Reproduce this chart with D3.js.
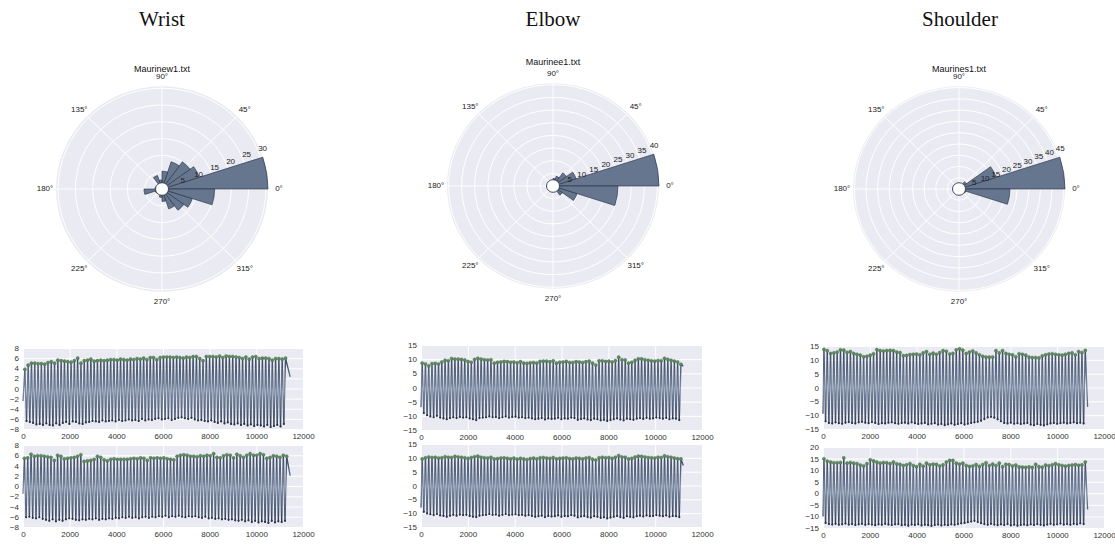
<!DOCTYPE html>
<html>
<head>
<meta charset="utf-8">
<script src="https://cdn.jsdelivr.net/npm/d3@7"></script>
<style>
  body { margin: 0; background: #fff; }
  svg { display: block; }
  text { font-family: "Liberation Sans", Arial, sans-serif; }
</style>
</head>
<body>
<svg id="fig" width="1115" height="546"></svg>
<script>
// ---------------- data ----------------
const joints = ["Wrist", "Elbow", "Shoulder"];
const files = ["Maurinew1.txt", "Maurinee1.txt", "Maurines1.txt"];

// angular histogram: 20 bins of 18 degrees, starting at 0 deg, counter-clockwise
const binDeg = 18;
const wristHist = [30.6, 11.3, 10, 8.5, 5.3, 2.7, 4.2, 1, 1, 2, 5.2, 2, 1.5, 1.5, 2.5, 3.7, 6.2, 7.8, 9.2, 15.2];
const elbowHist = [40.6, 9.3, 6.4, 4, 3, 2, 1, 0.8, 0.6, 0.5, 1, 0.5, 0.5, 0.6, 0.8, 1, 2, 4.5, 9.7, 24.9];
const shoulderHist = [45.6, 16.8, 4, 2, 1, 0.5, 0.3, 0.3, 0.3, 0.3, 0.5, 0.3, 0.3, 0.3, 0.3, 0.5, 0.8, 1.5, 3, 21.9];
const angleTicks = [0, 45, 90, 135, 180, 225, 270, 315];

// time-series: detected maxima (peaks) and minima (troughs) of each signal
const xTicks = [0, 2000, 4000, 6000, 8000, 10000, 12000];
const wristTicks = [-8, -6, -4, -2, 0, 2, 4, 6, 8];
const elbowTicks = [-15, -10, -5, 0, 5, 10, 15];
const shoulderTicksTop = [-15, -10, -5, 0, 5, 10, 15];
const shoulderTicksBot = [-15, -10, -5, 0, 5, 10, 15, 20];

const wristTopPeaks = [
  3.8,4.6,5.0,5.0,4.9,4.9,4.8,5.1,5.3,5.0,
  5.6,5.5,5.4,5.3,5.2,5.5,6.0,5.0,5.5,5.6,
  5.8,5.4,5.5,5.6,5.5,5.6,5.7,5.7,5.6,5.8,
  5.7,5.6,5.8,5.7,5.9,5.8,6.0,5.7,6.1,6.1,
  5.7,6.1,6.2,6.2,6.2,6.1,6.2,6.1,6.0,6.2,
  6.1,6.3,6.3,5.9,5.5,6.3,6.3,6.3,6.2,6.4,
  6.1,6.4,6.3,6.3,6.2,6.1,5.9,6.2,5.8,6.2,
  6.3,5.9,6.0,6.0,5.9,5.6,5.9,5.9,5.8,6.0];
const wristTopTroughs = [
  -6.4,-6.6,-6.8,-7.1,-7.0,-7.2,-6.9,-7.2,-7.3,-6.9,
  -7.2,-6.8,-6.6,-7.0,-6.5,-6.6,-6.9,-7.0,-6.7,-6.6,
  -6.4,-6.5,-6.6,-6.3,-6.5,-6.4,-6.3,-6.5,-6.2,-6.4,
  -6.3,-6.1,-6.3,-6.2,-6.4,-6.0,-6.3,-6.1,-6.2,-6.0,
  -5.9,-6.1,-6.0,-5.9,-6.2,-6.0,-5.8,-5.7,-5.9,-6.0,
  -5.8,-6.1,-6.3,-6.2,-6.4,-6.5,-6.3,-6.6,-6.8,-6.5,
  -6.9,-6.7,-7.0,-7.1,-6.9,-7.2,-7.0,-7.3,-7.1,-7.4,
  -7.2,-7.3,-7.5,-7.2,-7.6,-7.4,-7.2,-7.5,-7.0];

const wristBotPeaks = [
  5.4,5.5,6.2,5.8,5.9,5.9,5.8,5.7,5.6,5.0,
  6.0,5.8,5.3,5.4,5.5,5.6,5.8,6.1,4.8,4.9,
  5.0,5.2,5.8,5.6,5.1,4.9,5.2,5.3,5.2,5.2,
  5.2,5.2,5.3,5.4,5.3,5.5,5.4,5.0,5.5,5.4,
  5.5,5.4,5.5,5.3,5.2,5.1,5.8,6.0,6.1,6.0,
  5.8,5.8,5.7,5.9,5.8,6.0,5.9,6.3,5.6,5.5,
  5.9,6.1,6.0,5.5,6.2,5.9,5.6,6.0,6.3,6.0,
  6.0,6.3,6.1,5.4,5.6,5.9,5.8,5.6,6.0,5.8];
const wristBotTroughs = [
  -6.1,-6.0,-6.2,-6.3,-6.1,-6.4,-6.6,-6.8,-6.5,-6.9,
  -6.6,-6.8,-6.5,-6.3,-6.4,-6.6,-6.7,-6.5,-6.6,-6.4,
  -6.5,-6.3,-6.6,-6.4,-6.5,-6.3,-6.4,-6.2,-6.3,-6.1,
  -6.2,-6.0,-6.2,-6.1,-6.3,-6.1,-6.0,-6.2,-6.0,-6.1,
  -5.9,-6.0,-5.8,-6.1,-5.9,-6.0,-5.8,-6.0,-6.1,-5.9,
  -6.0,-5.9,-6.1,-6.2,-6.0,-6.3,-6.2,-6.4,-6.3,-6.5,
  -6.4,-6.6,-6.5,-6.7,-6.8,-6.6,-6.9,-6.7,-7.0,-6.8,
  -7.1,-6.9,-7.0,-7.2,-6.8,-7.1,-6.9,-7.0,-6.8];

const elbowTopPeaks = [
  8.6,8.3,7.6,8.4,8.5,8.3,9.0,9.6,9.4,10.2,
  10.0,10.0,9.9,9.7,9.2,8.9,9.9,10.3,10.0,9.8,
  9.7,9.8,8.6,8.9,9.0,9.2,9.1,8.9,9.0,8.7,
  9.1,8.6,8.5,8.7,8.8,8.6,9.2,9.3,9.3,9.1,
  9.4,8.6,8.9,9.0,9.2,8.8,8.8,9.1,9.0,8.8,
  9.1,9.3,8.6,7.9,9.4,9.4,9.2,9.3,9.0,9.5,
  10.7,9.8,9.7,8.6,8.9,9.6,10.1,10.1,9.8,9.6,
  9.4,9.3,9.5,9.4,10.3,9.9,9.6,9.3,9.0,8.2];
const elbowTopTroughs = [
  -9.0,-9.8,-10.2,-10.5,-10.0,-10.6,-10.9,-11.2,-10.8,-10.5,
  -10.8,-10.4,-10.6,-10.5,-10.9,-11.2,-11.5,-10.8,-10.6,-10.5,
  -10.2,-10.5,-10.4,-10.8,-10.5,-10.2,-10.6,-10.4,-10.3,-10.6,
  -10.5,-10.8,-10.6,-10.9,-11.2,-11.0,-10.8,-11.3,-10.9,-11.1,
  -11.0,-10.7,-11.2,-10.9,-11.0,-10.6,-10.8,-11.4,-11.1,-10.9,
  -11.3,-11.5,-11.0,-11.2,-11.6,-11.4,-11.8,-11.5,-11.2,-10.9,
  -11.3,-11.6,-11.0,-11.2,-11.4,-11.0,-10.8,-11.1,-10.7,-11.0,
  -10.9,-10.6,-10.8,-11.0,-10.7,-11.2,-10.9,-11.0,-11.5];

const elbowBotPeaks = [
  9.6,10.0,10.3,10.1,10.2,9.9,10.0,10.4,10.2,10.1,
  10.5,10.3,10.2,10.0,9.8,10.1,10.4,10.6,10.2,10.0,
  9.9,10.2,9.6,9.7,9.9,10.0,9.8,9.6,9.9,9.5,
  9.8,9.6,9.4,9.7,9.9,9.6,10.0,10.1,9.9,9.8,
  10.1,9.6,9.8,9.9,10.0,9.7,9.6,9.9,9.8,9.6,
  9.9,10.1,9.5,9.2,10.0,10.2,10.0,10.1,9.8,10.2,
  10.8,10.3,10.2,9.6,9.8,10.3,10.6,10.5,10.3,10.1,
  10.0,9.9,10.2,10.1,10.7,10.4,10.2,9.9,9.7,9.6];
const elbowBotTroughs = [
  -9.5,-10.1,-10.4,-10.7,-10.3,-10.8,-11.0,-11.3,-10.9,-10.6,
  -10.9,-10.5,-10.7,-10.6,-11.0,-11.3,-11.4,-10.9,-10.7,-10.6,
  -10.3,-10.6,-10.5,-10.9,-10.6,-10.3,-10.7,-10.5,-10.4,-10.7,
  -10.6,-10.9,-10.7,-11.0,-11.3,-11.1,-10.9,-11.4,-11.0,-11.2,
  -11.1,-10.8,-11.3,-11.0,-11.1,-10.7,-10.9,-11.5,-11.2,-11.0,
  -11.4,-11.6,-11.1,-11.3,-11.7,-11.5,-11.9,-11.6,-11.3,-11.0,
  -11.4,-11.7,-11.1,-11.3,-11.5,-11.1,-10.9,-11.2,-10.8,-11.1,
  -11.0,-10.7,-10.9,-11.1,-10.8,-11.3,-11.0,-11.1,-11.4];

const shoulderTopPeaks = [
  13.8,13.3,12.3,12.5,12.8,13.6,13.5,12.7,13.0,12.3,
  12.0,11.7,11.1,11.3,11.7,12.2,13.7,13.3,13.2,13.3,
  13.4,13.3,12.8,12.6,11.5,11.6,11.9,12.0,12.1,11.8,
  12.5,13.0,12.0,12.4,12.0,12.6,13.3,13.1,12.1,12.3,
  13.6,14.0,13.5,12.3,12.8,13.2,12.5,11.8,11.3,11.0,
  11.0,11.0,13.3,12.5,13.3,12.3,12.0,11.8,11.1,12.2,
  12.0,11.7,11.0,10.8,10.8,10.7,11.4,11.8,12.1,12.2,
  12.0,11.8,11.7,12.0,12.3,12.5,11.8,13.0,12.6,13.4];
const shoulderTopTroughs = [
  -12.2,-12.8,-13.0,-12.6,-12.9,-13.1,-12.7,-12.5,-12.8,-13.0,
  -12.6,-12.4,-12.7,-12.9,-12.5,-12.8,-13.2,-12.9,-13.0,-12.7,
  -12.6,-12.9,-13.1,-12.8,-12.7,-13.0,-12.6,-12.9,-13.2,-13.0,
  -12.8,-13.3,-13.1,-12.9,-13.4,-13.2,-13.6,-13.3,-13.0,-13.5,
  -13.2,-12.9,-13.4,-13.1,-12.8,-12.6,-12.4,-12.0,-11.4,-10.8,
  -10.6,-10.9,-11.5,-12.2,-12.8,-13.0,-12.7,-13.1,-12.9,-13.2,
  -13.0,-12.8,-13.4,-13.6,-13.2,-13.5,-13.7,-13.3,-13.0,-12.8,
  -13.1,-12.9,-12.7,-13.0,-12.8,-12.6,-12.9,-12.7,-13.0];

const shoulderBotPeaks = [
  14.9,13.9,13.5,13.2,13.2,13.3,15.3,13.0,13.3,13.0,
  12.8,12.2,11.8,12.8,14.5,14.0,13.5,13.0,13.3,13.2,
  12.8,13.5,12.7,12.5,12.0,12.3,12.8,12.0,11.5,12.5,
  11.7,13.0,12.3,12.6,12.5,11.8,12.3,13.5,14.2,14.2,
  13.0,12.6,13.0,12.0,11.6,11.8,12.4,11.6,12.4,13.2,
  12.0,12.6,12.0,13.0,11.5,12.5,12.4,11.8,12.2,11.4,
  11.3,11.2,11.4,11.2,12.5,11.5,11.3,12.2,11.9,12.3,
  12.8,12.3,12.0,11.7,12.0,12.2,12.4,12.1,12.3,13.5];
const shoulderBotTroughs = [
  -12.8,-13.3,-13.5,-13.2,-13.6,-13.4,-13.1,-13.5,-13.3,-13.7,
  -13.4,-13.2,-13.6,-13.3,-13.5,-13.8,-13.4,-13.6,-13.2,-13.5,
  -13.7,-13.4,-13.3,-13.8,-13.6,-14.0,-13.5,-13.7,-13.4,-13.9,
  -13.6,-13.8,-14.1,-13.7,-13.5,-13.9,-13.6,-13.8,-13.4,-13.6,
  -13.3,-13.0,-12.8,-12.5,-12.2,-11.9,-12.4,-12.9,-13.3,-13.6,
  -13.2,-13.5,-13.8,-13.4,-13.7,-13.3,-13.9,-13.6,-14.0,-13.7,
  -13.5,-13.8,-13.4,-13.7,-13.3,-13.6,-13.9,-13.5,-13.2,-13.6,
  -13.4,-13.1,-13.5,-13.3,-13.6,-13.2,-13.4,-13.0,-13.3];

// first / last sample value and time, first / last peak time
const seriesMeta = {
  wristTop:    {start: -2.5, end: 2.3,  firstPeak: 80, lastPeak: 11250, tEnd: 11450},
  wristBot:    {start: -1.5, end: 2.0,  firstPeak: 60, lastPeak: 11300, tEnd: 11450},
  elbowTop:    {start: -7.0, end: 7.5,  firstPeak: 50, lastPeak: 11100, tEnd: 11200},
  elbowBot:    {start: -8.0, end: 7.2,  firstPeak: 50, lastPeak: 11100, tEnd: 11200},
  shoulderTop: {start: -9.5, end: -7.0, firstPeak: 40, lastPeak: 11200, tEnd: 11300},
  shoulderBot: {start: -10.0, end: -7.0, firstPeak: 40, lastPeak: 11200, tEnd: 11300}
};

// ---------------- drawing ----------------
const svg = d3.select("#fig");
const BG = "#EAEAF2";
const BAR = "#67768f";

const defs = svg.append("defs");

// big column titles
const colX = [162, 553, 960];
svg.selectAll("text.joint").data(joints).enter().append("text")
  .attr("class", "joint")
  .attr("x", (d, i) => colX[i]).attr("y", 26)
  .attr("text-anchor", "middle")
  .style("font-family", "'Liberation Serif', 'Times New Roman', serif")
  .style("font-size", "21px").attr("fill", "#111")
  .text(d => d);

function drawPolar(cx, cy, titleY, title, counts) {
  const R = 106;
  const rmax = d3.max(counts);
  const r = d3.scaleLinear().domain([0, rmax]).range([0, R]);
  const g = svg.append("g").attr("transform", `translate(${cx},${cy}) scale(1,0.97)`);

  g.append("circle").attr("r", R).attr("fill", BG);
  g.selectAll("circle.ring").data(d3.range(5, rmax, 5)).enter().append("circle")
    .attr("class", "ring").attr("r", d => r(d))
    .attr("fill", "none").attr("stroke", "#fff").attr("stroke-width", 1);
  g.selectAll("line.spoke").data(angleTicks).enter().append("line")
    .attr("x2", d => R * Math.cos(d * Math.PI / 180))
    .attr("y2", d => -R * Math.sin(d * Math.PI / 180))
    .attr("stroke", "#fff").attr("stroke-width", 1);

  const arc = d3.arc().innerRadius(0);
  g.selectAll("path.bar").data(counts).enter().append("path")
    .attr("d", (d, i) => arc({
      outerRadius: r(d),
      startAngle: Math.PI / 2 - (i + 1) * binDeg * Math.PI / 180,
      endAngle: Math.PI / 2 - i * binDeg * Math.PI / 180
    }))
    .attr("fill", BAR).attr("stroke", "#2c384a").attr("stroke-width", 0.7);

  g.append("circle").attr("r", 6.5).attr("fill", "#fff")
    .attr("stroke", "#2c384a").attr("stroke-width", 0.9);

  const la = 22.5 * Math.PI / 180;
  g.selectAll("text.rlab").data(d3.range(5, rmax, 5)).enter().append("text")
    .attr("x", d => (r(d) + 5) * Math.cos(la))
    .attr("y", d => -(r(d) + 5) * Math.sin(la))
    .attr("text-anchor", "middle").attr("dominant-baseline", "central")
    .style("font-size", "8px").attr("fill", "#222")
    .text(d => d);

  g.selectAll("text.alab").data(angleTicks).enter().append("text")
    .attr("x", d => (R + 11) * Math.cos(d * Math.PI / 180))
    .attr("y", d => -(R + 10) * Math.sin(d * Math.PI / 180))
    .attr("text-anchor", "middle").attr("dominant-baseline", "central")
    .style("font-size", "8px").attr("fill", "#222")
    .text(d => d + "\u00b0");

  svg.append("text").attr("x", cx).attr("y", titleY)
    .attr("text-anchor", "middle").attr("dominant-baseline", "central")
    .style("font-size", "9px").attr("fill", "#111")
    .text(title);
}

drawPolar(162, 189, 69, files[0], wristHist);
drawPolar(553, 186, 62, files[1], elbowHist);
drawPolar(959, 189, 69, files[2], shoulderHist);

let gradId = 0;
function drawSignal(box, yDomain, yTicks, peaks, troughs, meta) {
  const x = d3.scaleLinear().domain([0, 12000]).range([box.x0, box.x1]);
  const y = d3.scaleLinear().domain(yDomain).range([box.y1, box.y0]);
  const g = svg.append("g");

  g.append("rect").attr("x", box.x0).attr("y", box.y0)
    .attr("width", box.x1 - box.x0).attr("height", box.y1 - box.y0)
    .attr("fill", BG);

  const xa = g.append("g").attr("transform", `translate(0,${box.y1})`)
    .call(d3.axisBottom(x).tickValues(xTicks).tickFormat(d3.format("d"))
      .tickSize(-(box.y1 - box.y0)).tickPadding(4));
  const ya = g.append("g").attr("transform", `translate(${box.x0},0)`)
    .call(d3.axisLeft(y).tickValues(yTicks).tickFormat(d3.format("d"))
      .tickSize(-(box.x1 - box.x0)).tickPadding(4));
  [xa, ya].forEach(a => {
    a.select(".domain").remove();
    a.selectAll("line").attr("stroke", "#fff").attr("stroke-width", 1);
    a.selectAll("text").style("font-size", "8px").style("font-family", "'Liberation Sans', Arial, sans-serif")
      .attr("fill", "#333");
  });

  // build the sample sequence: start, peak, trough, peak, ... , end
  const n = peaks.length;
  const step = (meta.lastPeak - meta.firstPeak) / (n - 1);
  const peakPts = peaks.map((v, i) => ({t: meta.firstPeak + i * step, v}));
  const troughPts = troughs.slice(0, n - 1).map((v, i) => ({t: meta.firstPeak + (i + 0.5) * step, v}));
  const seq = [{t: 0, v: meta.start}];
  peakPts.forEach((p, i) => { seq.push(p); if (troughPts[i]) seq.push(troughPts[i]); });
  seq.push({t: meta.tEnd, v: meta.end});

  const id = "lg" + (gradId++);
  const lg = defs.append("linearGradient").attr("id", id)
    .attr("gradientUnits", "userSpaceOnUse")
    .attr("x1", 0).attr("x2", 0)
    .attr("y1", y(d3.max(peaks))).attr("y2", y(d3.min(troughs)));
  [[0, "#35425a"], [0.2, "#4f5e77"], [0.5, "#7f8ea6"], [0.8, "#4f5e77"], [1, "#27334a"]].forEach(s =>
    lg.append("stop").attr("offset", s[0]).attr("stop-color", s[1]));

  const line = d3.line().x(d => x(d.t)).y(d => y(d.v));
  g.append("path").datum(seq).attr("d", line)
    .attr("fill", "none").attr("stroke", `url(#${id})`).attr("stroke-width", 1.35)
    .attr("stroke-linejoin", "round");

  g.selectAll("circle.tr").data(troughPts).enter().append("circle")
    .attr("cx", d => x(d.t)).attr("cy", d => y(d.v)).attr("r", 1.1)
    .attr("fill", "#28344a");
  g.selectAll("circle.pk").data(peakPts).enter().append("circle")
    .attr("cx", d => x(d.t)).attr("cy", d => y(d.v)).attr("r", 1.6)
    .attr("fill", "#5e8a60").attr("stroke", "#42624a").attr("stroke-width", 0.4);
}

drawSignal({x0: 23, x1: 303, y0: 348, y1: 429}, [-8, 8], wristTicks, wristTopPeaks, wristTopTroughs, seriesMeta.wristTop);
drawSignal({x0: 23, x1: 303, y0: 445, y1: 527}, [-8, 8], wristTicks, wristBotPeaks, wristBotTroughs, seriesMeta.wristBot);
drawSignal({x0: 421, x1: 702, y0: 345, y1: 430}, [-15, 15], elbowTicks, elbowTopPeaks, elbowTopTroughs, seriesMeta.elbowTop);
drawSignal({x0: 421, x1: 702, y0: 444, y1: 527}, [-15, 15], elbowTicks, elbowBotPeaks, elbowBotTroughs, seriesMeta.elbowBot);
drawSignal({x0: 823, x1: 1104, y0: 346, y1: 429}, [-15, 15], shoulderTicksTop, shoulderTopPeaks, shoulderTopTroughs, seriesMeta.shoulderTop);
drawSignal({x0: 823, x1: 1104, y0: 447, y1: 528}, [-15, 20], shoulderTicksBot, shoulderBotPeaks, shoulderBotTroughs, seriesMeta.shoulderBot);
</script>
</body>
</html>
